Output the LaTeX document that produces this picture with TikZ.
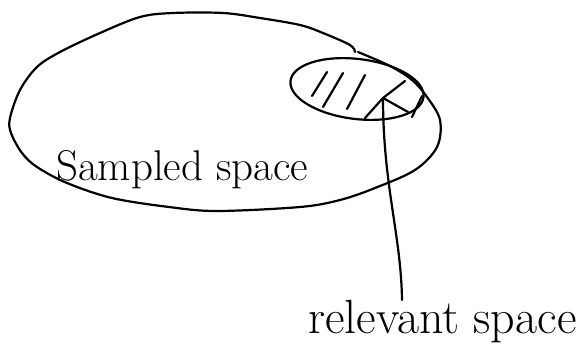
\documentclass[tikz,border=0pt]{standalone}
\usepackage{tikz}

\begin{document}
\begin{tikzpicture}[x=1pt, y=-1pt,
	pen/.style={line width=2.2pt, line cap=round, line join=round},
	hand/.style={inner sep=0pt, anchor=base west}]
	\useasboundingbox (0,0) rectangle (585,343);
	% sampled space, one stroke with a small gap at the top
	\draw[pen] plot[smooth, tension=0.55] coordinates {(358,52) (390,66) (412,80) (427,97)
		(440,120) (437,147) (415,170) (375,188) (340,200) (300,207) (217,211) (169,207)
		(112,198) (67,183) (37,167) (22,153) (11,133) (10,118) (20,90) (37,67)
		(60,52) (100,33) (140,17) (173,13) (223,13) (260,18) (300,25) (323,33) (350,45) (355,52)};
	% relevant space
	\draw[pen, rotate around={-7:(357,89)}] (357,89) ellipse [x radius=67, y radius=30];
	\foreach \xa/\ya/\xb/\yb in {312/96/327/72, 323/107/343/73, 347/109/365/75}{
		\draw[pen] (\xa,\ya) -- (\xb,\yb);
	}
	\coordinate (junc) at (383,98);
	\draw[pen] (365,118) -- (junc) -- (405,81);
	\draw[pen] (junc) -- (408,112);
	\draw[pen] (422,96) -- (412,117);
	% labels
	\node[hand, font=\fontsize{43}{50}\selectfont] (sampled) at (56,180) {Sampled space};
	\node[hand, font=\fontsize{48}{54}\selectfont] (relevant) at (308,333) {relevant space};
	\coordinate (tip) at (402,300);
	\draw[pen] (junc) .. controls (383,185) and (401,235) .. (tip);
\end{tikzpicture}
\end{document}
